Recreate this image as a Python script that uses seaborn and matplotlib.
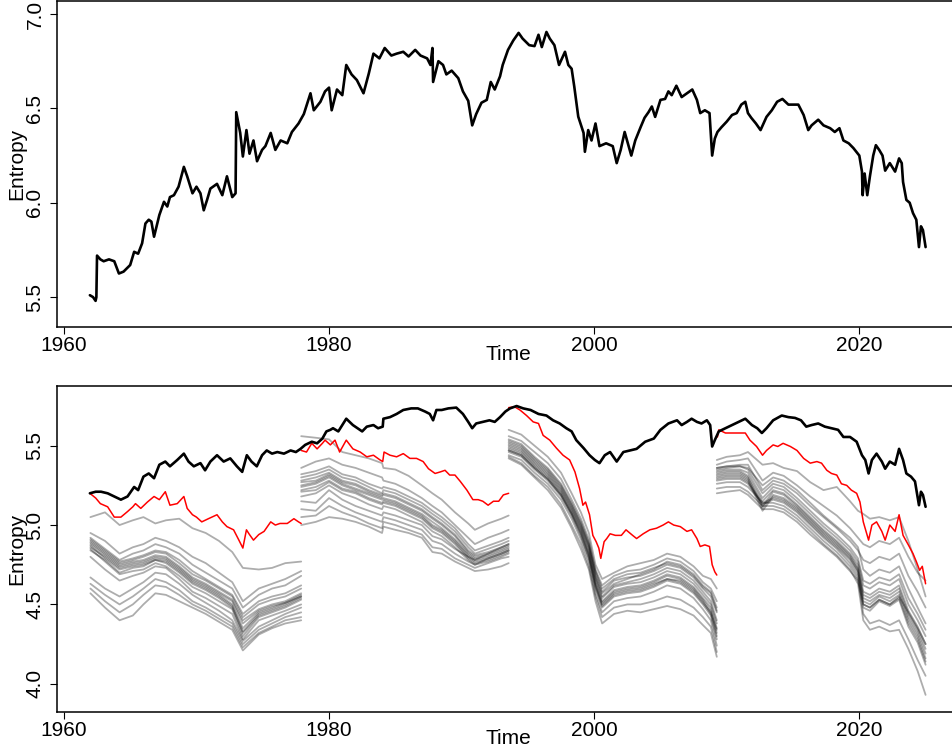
import numpy as np
import pandas as pd
import seaborn as sns
import matplotlib.pyplot as plt

# --- Top panel: entropy of the full sample ---
top_year = [1961.96, 1962.2, 1962.39, 1962.45, 1962.5, 1962.75, 1963.0, 1963.4, 1963.8, 1964.15,
            1964.5, 1965.0, 1965.3, 1965.6, 1965.9, 1966.15, 1966.4, 1966.6, 1966.8, 1967.2,
            1967.55, 1967.8, 1968.0, 1968.3, 1968.65, 1969.05, 1969.3, 1969.7, 1970.0, 1970.3,
            1970.55, 1970.8, 1971.05, 1971.55, 1971.95, 1972.3, 1972.7, 1972.95, 1973.0, 1973.3,
            1973.5, 1973.77, 1974.0, 1974.3, 1974.57, 1974.95, 1975.2, 1975.6, 1975.95, 1976.35,
            1976.85, 1977.2, 1977.7, 1978.1, 1978.6, 1978.85, 1979.35, 1979.7, 1980.0, 1980.2,
            1980.6, 1981.0, 1981.3, 1981.7, 1982.1, 1982.6, 1983.0, 1983.35, 1983.8, 1984.2,
            1984.7, 1985.1, 1985.6, 1986.0, 1986.5, 1986.9, 1987.4, 1987.65, 1987.8, 1987.85,
            1988.25, 1988.6, 1988.85, 1989.25, 1989.75, 1990.1, 1990.5, 1990.8, 1991.1, 1991.5,
            1991.9, 1992.2, 1992.5, 1992.9, 1993.1, 1993.5, 1993.9, 1994.3, 1994.6, 1995.1,
            1995.5, 1995.8, 1996.05, 1996.4, 1996.65, 1997.0, 1997.35, 1997.8, 1998.05, 1998.3,
            1998.5, 1998.8, 1999.2, 1999.3, 1999.55, 1999.8, 2000.1, 2000.4, 2000.9, 2001.4,
            2001.7, 2002.0, 2002.3, 2002.8, 2003.1, 2003.5, 2003.8, 2004.1, 2004.35, 2004.6,
            2005.0, 2005.35, 2005.6, 2005.85, 2006.2, 2006.6, 2007.0, 2007.4, 2007.75, 2008.0,
            2008.35, 2008.7, 2008.9, 2009.1, 2009.3, 2009.6, 2010.0, 2010.4, 2010.75, 2011.1,
            2011.4, 2011.6, 2011.85, 2012.2, 2012.55, 2013.0, 2013.4, 2013.8, 2014.2, 2014.65,
            2015.0, 2015.4, 2015.8, 2016.15, 2016.4, 2016.9, 2017.3, 2017.8, 2018.15, 2018.5,
            2018.8, 2019.2, 2019.55, 2020.0, 2020.2, 2020.25, 2020.4, 2020.6, 2020.8, 2021.05,
            2021.25, 2021.5, 2021.75, 2021.95, 2022.3, 2022.7, 2023.0, 2023.2, 2023.3, 2023.55,
            2023.8, 2024.05, 2024.3, 2024.5, 2024.65, 2024.8, 2025.0]
top_val = [5.51, 5.50, 5.48, 5.50, 5.72, 5.70, 5.69, 5.70, 5.69, 5.625,
           5.635, 5.67, 5.74, 5.73, 5.785, 5.89, 5.91, 5.90, 5.82, 5.935,
           6.005, 5.98, 6.03, 6.04, 6.085, 6.19, 6.14, 6.05, 6.085, 6.05,
           5.96, 6.015, 6.075, 6.10, 6.04, 6.14, 6.03, 6.05, 6.48, 6.37,
           6.245, 6.385, 6.26, 6.33, 6.22, 6.28, 6.30, 6.37, 6.28, 6.33,
           6.315, 6.375, 6.42, 6.47, 6.58, 6.49, 6.535, 6.59, 6.61, 6.49,
           6.60, 6.57, 6.73, 6.68, 6.65, 6.58, 6.685, 6.79, 6.765, 6.82,
           6.78, 6.79, 6.80, 6.775, 6.81, 6.78, 6.765, 6.73, 6.82, 6.64,
           6.75, 6.73, 6.68, 6.70, 6.66, 6.59, 6.54, 6.41, 6.47, 6.53,
           6.545, 6.64, 6.60, 6.67, 6.73, 6.81, 6.86, 6.90, 6.87, 6.835,
           6.83, 6.89, 6.825, 6.905, 6.87, 6.835, 6.73, 6.80, 6.73, 6.71,
           6.615, 6.456, 6.37, 6.27, 6.385, 6.33, 6.42, 6.30, 6.315, 6.30,
           6.21, 6.28, 6.375, 6.25, 6.33, 6.40, 6.45, 6.48, 6.51, 6.455,
           6.545, 6.55, 6.59, 6.57, 6.62, 6.56, 6.58, 6.60, 6.545, 6.475,
           6.49, 6.475, 6.25, 6.34, 6.375, 6.40, 6.43, 6.465, 6.475, 6.52,
           6.535, 6.475, 6.45, 6.42, 6.385, 6.455, 6.49, 6.535, 6.55, 6.52,
           6.52, 6.52, 6.465, 6.385, 6.41, 6.44, 6.41, 6.395, 6.375, 6.395,
           6.33, 6.315, 6.29, 6.25, 6.165, 6.04, 6.155, 6.04, 6.14, 6.25,
           6.305, 6.28, 6.25, 6.17, 6.21, 6.165, 6.235, 6.21, 6.11, 6.015,
           6.0, 5.945, 5.91, 5.765, 5.875, 5.855, 5.765]

# --- Bottom panel: black line (full sample) ---
bot_year = [1961.96, 1962.4, 1962.8, 1963.3, 1963.8, 1964.3, 1964.8, 1965.3, 1965.6, 1966.0,
            1966.4, 1966.8, 1967.2, 1967.65, 1968.0, 1968.55, 1969.05, 1969.4, 1969.8, 1970.3,
            1970.65, 1971.05, 1971.55, 1972.05, 1972.55, 1973.05, 1973.45, 1973.8, 1974.15, 1974.55,
            1974.95, 1975.3, 1975.7, 1976.1, 1976.6, 1977.1, 1977.5, 1977.85, 1978.2, 1978.7,
            1979.1, 1979.5, 1979.8, 1980.1, 1980.3, 1980.7, 1981.3, 1981.8, 1982.5, 1982.85,
            1983.35, 1983.7, 1984.05, 1984.1, 1984.6, 1985.1, 1985.6, 1986.2, 1986.7, 1987.25,
            1987.6, 1987.85, 1988.1, 1988.5, 1989.0, 1989.6, 1990.1, 1990.5, 1990.8, 1991.1,
            1991.6, 1992.1, 1992.5, 1992.9, 1993.3, 1993.65, 1994.15, 1994.65, 1995.2, 1995.8,
            1996.4, 1996.9, 1997.4, 1997.9, 1998.3, 1998.65, 1999.2, 1999.65, 2000.05, 2000.4,
            2000.8, 2001.2, 2001.7, 2002.2, 2002.7, 2003.2, 2003.85, 2004.5, 2005.0, 2005.6,
            2006.25, 2006.6, 2007.0, 2007.35, 2007.75, 2008.1, 2008.5, 2008.75, 2008.9, 2009.1,
            2009.4, 2009.9, 2010.4, 2010.9, 2011.4, 2011.9, 2012.3, 2012.65, 2013.0, 2013.5,
            2014.15, 2014.65, 2015.15, 2015.6, 2016.0, 2016.4, 2016.9, 2017.4, 2017.9, 2018.4,
            2018.8, 2019.3, 2019.8, 2020.2, 2020.45, 2020.7, 2020.95, 2021.3, 2021.7, 2021.95,
            2022.3, 2022.7, 2023.0, 2023.3, 2023.55, 2023.9, 2024.2, 2024.5, 2024.65, 2024.8,
            2025.0]
bot_val = [5.20, 5.21, 5.21, 5.20, 5.18, 5.16, 5.18, 5.24, 5.22, 5.305,
           5.325, 5.295, 5.38, 5.40, 5.37, 5.41, 5.45, 5.40, 5.37, 5.39,
           5.345, 5.40, 5.44, 5.40, 5.42, 5.37, 5.335, 5.44, 5.40, 5.37,
           5.44, 5.47, 5.45, 5.46, 5.45, 5.47, 5.46, 5.48, 5.505, 5.525,
           5.515, 5.545, 5.59, 5.60, 5.61, 5.59, 5.67, 5.63, 5.59, 5.62,
           5.63, 5.61, 5.62, 5.67, 5.68, 5.70, 5.725, 5.735, 5.735, 5.715,
           5.70, 5.66, 5.725, 5.725, 5.735, 5.74, 5.70, 5.65, 5.61, 5.64,
           5.65, 5.66, 5.65, 5.68, 5.715, 5.735, 5.75, 5.735, 5.725, 5.70,
           5.69, 5.66, 5.64, 5.61, 5.59, 5.535, 5.485, 5.44, 5.41, 5.39,
           5.44, 5.46, 5.40, 5.46, 5.47, 5.48, 5.525, 5.545, 5.60, 5.64,
           5.66, 5.63, 5.65, 5.67, 5.65, 5.64, 5.66, 5.63, 5.495, 5.535,
           5.59, 5.61, 5.63, 5.65, 5.67, 5.63, 5.61, 5.58, 5.61, 5.66,
           5.69, 5.68, 5.675, 5.66, 5.62, 5.63, 5.64, 5.62, 5.61, 5.60,
           5.555, 5.555, 5.525, 5.44, 5.41, 5.325, 5.41, 5.45, 5.40, 5.355,
           5.40, 5.38, 5.48, 5.41, 5.325, 5.305, 5.275, 5.125, 5.21, 5.19,
           5.115]

# --- Bottom panel: red line, one piece per sub-period ---
red_year_1 = [1961.96, 1962.4, 1962.75, 1963.3, 1963.8, 1964.3, 1964.8, 1965.2, 1965.4, 1965.8,
              1966.3, 1966.8, 1967.2, 1967.65, 1968.0, 1968.55, 1969.05, 1969.3, 1969.7, 1970.0,
              1970.4, 1970.9, 1971.55, 1971.95, 1972.3, 1972.8, 1973.2, 1973.5, 1973.77, 1974.0,
              1974.3, 1974.7, 1975.1, 1975.6, 1975.95, 1976.3, 1976.85, 1977.35, 1977.7, 1977.9]
red_val_1 = [5.20, 5.17, 5.135, 5.115, 5.05, 5.05, 5.085, 5.115, 5.135, 5.105,
             5.145, 5.18, 5.16, 5.21, 5.125, 5.135, 5.18, 5.105, 5.065, 5.05,
             5.02, 5.04, 5.065, 5.02, 4.99, 4.97, 4.905, 4.855, 4.97, 4.94,
             4.905, 4.94, 4.96, 5.02, 5.00, 5.01, 5.01, 5.04, 5.02, 5.01]
red_year_2 = [1977.9, 1978.3, 1978.7, 1979.1, 1979.5, 1979.7, 1980.1, 1980.45, 1980.8, 1981.3,
              1981.8, 1982.35, 1982.85, 1983.35, 1983.85, 1984.05, 1984.15, 1984.6, 1985.1, 1985.6,
              1986.1, 1986.6, 1987.1, 1987.5, 1988.0, 1988.4, 1988.75, 1989.1, 1989.5, 1989.9,
              1990.4, 1990.85, 1991.25, 1991.6, 1992.0, 1992.4, 1992.8, 1993.15, 1993.55]
red_val_2 = [5.47, 5.46, 5.515, 5.48, 5.515, 5.535, 5.505, 5.535, 5.46, 5.535,
             5.48, 5.46, 5.43, 5.44, 5.41, 5.40, 5.46, 5.44, 5.43, 5.45,
             5.42, 5.42, 5.40, 5.355, 5.325, 5.335, 5.345, 5.315, 5.315, 5.275,
             5.22, 5.16, 5.16, 5.15, 5.125, 5.15, 5.15, 5.19, 5.20]
red_year_3 = [1993.55, 1994.0, 1994.4, 1994.9, 1995.4, 1995.8, 1996.15, 1996.65, 1997.15, 1997.65,
              1998.15, 1998.55, 1998.9, 1999.15, 1999.35, 1999.65, 1999.9, 2000.15, 2000.35, 2000.5,
              2000.75, 2000.95, 2001.2, 2001.6, 2002.05, 2002.4, 2002.9, 2003.2, 2003.7, 2004.2,
              2004.7, 2005.2, 2005.6, 2006.0, 2006.5, 2007.0, 2007.35, 2007.75, 2008.0, 2008.35,
              2008.7, 2008.9, 2009.1, 2009.25]
red_val_3 = [5.74, 5.745, 5.725, 5.69, 5.65, 5.64, 5.565, 5.535, 5.485, 5.44,
             5.41, 5.335, 5.23, 5.125, 5.145, 5.065, 4.935, 4.895, 4.855, 4.79,
             4.895, 4.915, 4.945, 4.935, 4.935, 4.97, 4.935, 4.915, 4.945, 4.97,
             4.98, 5.00, 5.02, 5.00, 4.99, 4.96, 4.97, 4.915, 4.865, 4.875,
             4.865, 4.75, 4.705, 4.685]
red_year_4 = [2009.3, 2009.4, 2009.9, 2010.4, 2011.0, 2011.4, 2011.75, 2012.25, 2012.7, 2013.0,
              2013.5, 2013.85, 2014.25, 2014.8, 2015.3, 2015.8, 2016.3, 2016.8, 2017.15, 2017.55,
              2017.9, 2018.3, 2018.65, 2019.05, 2019.4, 2019.8, 2020.05, 2020.3, 2020.7, 2020.95,
              2021.3, 2021.7, 2021.95, 2022.3, 2022.7, 2023.0, 2023.3, 2023.7, 2024.05, 2024.3,
              2024.55, 2024.75, 2025.0]
red_val_4 = [5.555, 5.60, 5.58, 5.58, 5.58, 5.58, 5.535, 5.495, 5.44, 5.47,
             5.505, 5.495, 5.515, 5.495, 5.47, 5.42, 5.39, 5.40, 5.39, 5.345,
             5.325, 5.315, 5.26, 5.25, 5.22, 5.20, 5.145, 5.02, 4.905, 5.00,
             5.02, 4.96, 4.905, 5.00, 4.96, 5.065, 4.935, 4.875, 4.82, 4.77,
             4.715, 4.74, 4.63]

# --- Bottom panel: grey lines (sub-samples), one grid of years per sub-period ---
gray_year_1 = [1962.0, 1963.1, 1964.2, 1965.2, 1966.0, 1966.9, 1967.7, 1968.7, 1969.7,
               1970.7, 1971.7, 1972.7, 1973.5, 1974.7, 1975.7, 1976.7, 1977.9]
gray_val_1 = [
    [5.05, 5.08, 5.00, 5.03, 5.05, 5.01, 5.03, 5.04, 4.98, 4.95, 4.90, 4.83, 4.73, 4.72, 4.73, 4.76, 4.77],
    [4.95, 4.90, 4.82, 4.86, 4.88, 4.92, 4.90, 4.86, 4.80, 4.76, 4.70, 4.64, 4.52, 4.60, 4.63, 4.66, 4.71],
    [4.92, 4.85, 4.78, 4.82, 4.84, 4.88, 4.86, 4.82, 4.75, 4.70, 4.65, 4.60, 4.48, 4.56, 4.60, 4.62, 4.68],
    [4.91, 4.84, 4.77, 4.79, 4.81, 4.84, 4.83, 4.78, 4.71, 4.66, 4.61, 4.56, 4.44, 4.52, 4.55, 4.57, 4.62],
    [4.90, 4.83, 4.76, 4.78, 4.80, 4.83, 4.82, 4.76, 4.69, 4.65, 4.60, 4.55, 4.42, 4.50, 4.53, 4.55, 4.60],
    [4.89, 4.82, 4.75, 4.77, 4.78, 4.81, 4.80, 4.74, 4.67, 4.63, 4.58, 4.53, 4.40, 4.47, 4.50, 4.52, 4.57],
    [4.88, 4.81, 4.74, 4.76, 4.77, 4.80, 4.79, 4.73, 4.66, 4.62, 4.57, 4.52, 4.38, 4.46, 4.49, 4.51, 4.56],
    [4.87, 4.79, 4.72, 4.74, 4.75, 4.78, 4.77, 4.71, 4.64, 4.60, 4.55, 4.49, 4.33, 4.44, 4.47, 4.50, 4.55],
    [4.86, 4.80, 4.73, 4.75, 4.76, 4.79, 4.78, 4.72, 4.65, 4.61, 4.56, 4.50, 4.35, 4.45, 4.48, 4.51, 4.55],
    [4.85, 4.77, 4.69, 4.71, 4.72, 4.76, 4.74, 4.68, 4.61, 4.57, 4.52, 4.47, 4.30, 4.42, 4.45, 4.48, 4.53],
    [4.84, 4.78, 4.70, 4.73, 4.74, 4.78, 4.76, 4.70, 4.63, 4.59, 4.54, 4.48, 4.32, 4.43, 4.46, 4.49, 4.54],
    [4.80, 4.72, 4.65, 4.68, 4.70, 4.74, 4.73, 4.66, 4.58, 4.54, 4.49, 4.44, 4.28, 4.40, 4.43, 4.46, 4.50],
    [4.67, 4.60, 4.55, 4.60, 4.64, 4.70, 4.69, 4.63, 4.56, 4.51, 4.46, 4.40, 4.27, 4.36, 4.40, 4.44, 4.48],
    [4.63, 4.56, 4.50, 4.55, 4.60, 4.66, 4.64, 4.59, 4.52, 4.48, 4.43, 4.38, 4.25, 4.34, 4.38, 4.42, 4.45],
    [4.60, 4.52, 4.45, 4.50, 4.56, 4.62, 4.61, 4.56, 4.50, 4.46, 4.41, 4.36, 4.23, 4.32, 4.36, 4.40, 4.42],
    [4.57, 4.48, 4.40, 4.43, 4.50, 4.57, 4.56, 4.52, 4.48, 4.44, 4.39, 4.34, 4.21, 4.31, 4.35, 4.38, 4.40],
]
gray_year_2 = [1977.9, 1979.0, 1980.0, 1981.0, 1982.0, 1983.0, 1984.0, 1984.1, 1985.0, 1986.0,
               1987.0, 1987.8, 1988.5, 1989.5, 1990.5, 1991.0, 1992.0, 1993.0, 1993.55]
gray_val_2 = [
    [5.56, 5.55, 5.54, 5.46, 5.44, 5.42, 5.39, 5.36, 5.35, 5.31, 5.25, 5.20, 5.16, 5.08, 5.01, 4.97, 5.01, 5.04, 5.06],
    [5.36, 5.40, 5.42, 5.38, 5.36, 5.33, 5.30, 5.28, 5.26, 5.22, 5.17, 5.12, 5.08, 5.00, 4.92, 4.88, 4.92, 4.95, 4.97],
    [5.32, 5.34, 5.37, 5.32, 5.30, 5.26, 5.23, 5.24, 5.22, 5.18, 5.14, 5.09, 5.05, 4.98, 4.88, 4.84, 4.87, 4.90, 4.92],
    [5.30, 5.32, 5.35, 5.30, 5.28, 5.24, 5.20, 5.22, 5.20, 5.16, 5.12, 5.07, 5.03, 4.96, 4.86, 4.82, 4.85, 4.88, 4.90],
    [5.28, 5.30, 5.33, 5.28, 5.26, 5.22, 5.19, 5.20, 5.18, 5.14, 5.10, 5.05, 5.01, 4.94, 4.84, 4.81, 4.83, 4.86, 4.88],
    [5.27, 5.28, 5.32, 5.27, 5.25, 5.21, 5.18, 5.19, 5.17, 5.13, 5.09, 5.04, 5.00, 4.93, 4.83, 4.80, 4.82, 4.85, 4.87],
    [5.25, 5.27, 5.31, 5.26, 5.23, 5.20, 5.17, 5.17, 5.15, 5.11, 5.07, 5.02, 4.98, 4.91, 4.82, 4.79, 4.81, 4.84, 4.86],
    [5.24, 5.26, 5.30, 5.25, 5.22, 5.19, 5.16, 5.16, 5.14, 5.10, 5.06, 5.00, 4.97, 4.90, 4.81, 4.78, 4.80, 4.83, 4.85],
    [5.22, 5.24, 5.28, 5.23, 5.21, 5.17, 5.14, 5.15, 5.13, 5.09, 5.05, 4.99, 4.96, 4.89, 4.80, 4.77, 4.79, 4.82, 4.84],
    [5.21, 5.22, 5.27, 5.22, 5.20, 5.16, 5.13, 5.14, 5.12, 5.08, 5.04, 4.98, 4.95, 4.88, 4.79, 4.76, 4.78, 4.81, 4.83],
    [5.18, 5.20, 5.25, 5.20, 5.17, 5.13, 5.10, 5.12, 5.10, 5.06, 5.02, 4.96, 4.93, 4.86, 4.78, 4.75, 4.77, 4.80, 4.82],
    [5.15, 5.14, 5.22, 5.16, 5.12, 5.09, 5.06, 5.08, 5.06, 5.03, 5.00, 4.93, 4.91, 4.85, 4.80, 4.78, 4.82, 4.86, 4.88],
    [5.10, 5.09, 5.17, 5.12, 5.08, 5.05, 5.02, 5.05, 5.03, 5.00, 4.97, 4.90, 4.88, 4.82, 4.77, 4.75, 4.79, 4.82, 4.84],
    [5.05, 5.06, 5.12, 5.08, 5.05, 5.01, 4.98, 5.02, 5.00, 4.97, 4.94, 4.86, 4.85, 4.79, 4.75, 4.73, 4.76, 4.79, 4.80],
    [5.00, 5.02, 5.05, 5.04, 5.02, 4.99, 4.95, 4.99, 4.97, 4.95, 4.92, 4.83, 4.82, 4.77, 4.73, 4.71, 4.72, 4.74, 4.76],
]
gray_year_3 = [1993.55, 1994.5, 1995.5, 1996.5, 1997.5, 1998.3, 1999.0, 1999.6, 2000.1, 2000.6,
               2001.5, 2002.5, 2003.5, 2004.5, 2005.5, 2006.5, 2007.5, 2008.2, 2008.8, 2009.25]
gray_val_3 = [
    [5.60, 5.57, 5.50, 5.43, 5.33, 5.20, 5.08, 4.95, 4.75, 4.66, 4.70, 4.74, 4.76, 4.78, 4.82, 4.80, 4.74, 4.68, 4.66, 4.60],
    [5.56, 5.53, 5.46, 5.39, 5.29, 5.16, 5.04, 4.91, 4.72, 4.62, 4.68, 4.71, 4.72, 4.75, 4.79, 4.77, 4.71, 4.64, 4.60, 4.52],
    [5.54, 5.51, 5.43, 5.36, 5.26, 5.14, 5.02, 4.89, 4.71, 4.60, 4.66, 4.69, 4.70, 4.73, 4.76, 4.74, 4.68, 4.61, 4.57, 4.46],
    [5.53, 5.50, 5.42, 5.35, 5.25, 5.13, 5.01, 4.88, 4.70, 4.58, 4.65, 4.67, 4.68, 4.71, 4.75, 4.73, 4.67, 4.60, 4.55, 4.45],
    [5.52, 5.49, 5.41, 5.34, 5.24, 5.12, 5.00, 4.87, 4.68, 4.57, 4.63, 4.66, 4.69, 4.72, 4.77, 4.75, 4.69, 4.62, 4.58, 4.48],
    [5.51, 5.48, 5.40, 5.33, 5.23, 5.11, 4.99, 4.86, 4.67, 4.55, 4.62, 4.64, 4.66, 4.69, 4.73, 4.71, 4.65, 4.58, 4.52, 4.40],
    [5.50, 5.47, 5.39, 5.32, 5.22, 5.10, 4.98, 4.85, 4.66, 4.54, 4.61, 4.63, 4.64, 4.67, 4.71, 4.69, 4.63, 4.56, 4.50, 4.38],
    [5.49, 5.46, 5.38, 5.31, 5.21, 5.09, 4.97, 4.83, 4.64, 4.52, 4.59, 4.61, 4.62, 4.65, 4.69, 4.67, 4.61, 4.54, 4.48, 4.35],
    [5.48, 5.45, 5.37, 5.30, 5.20, 5.08, 4.96, 4.82, 4.63, 4.51, 4.58, 4.60, 4.61, 4.64, 4.68, 4.66, 4.60, 4.53, 4.46, 4.32],
    [5.47, 5.44, 5.36, 5.29, 5.19, 5.07, 4.95, 4.81, 4.61, 4.49, 4.56, 4.58, 4.59, 4.62, 4.66, 4.65, 4.59, 4.52, 4.44, 4.30],
    [5.47, 5.44, 5.36, 5.29, 5.19, 5.07, 4.94, 4.80, 4.62, 4.50, 4.57, 4.59, 4.60, 4.63, 4.66, 4.64, 4.58, 4.51, 4.45, 4.34],
    [5.46, 5.43, 5.35, 5.28, 5.18, 5.06, 4.93, 4.79, 4.60, 4.48, 4.55, 4.57, 4.58, 4.61, 4.65, 4.63, 4.57, 4.50, 4.43, 4.28],
    [5.44, 5.41, 5.33, 5.26, 5.16, 5.04, 4.91, 4.77, 4.57, 4.45, 4.52, 4.54, 4.55, 4.58, 4.62, 4.60, 4.54, 4.47, 4.40, 4.24],
    [5.43, 5.39, 5.31, 5.24, 5.13, 5.00, 4.88, 4.74, 4.55, 4.42, 4.48, 4.50, 4.50, 4.52, 4.55, 4.53, 4.48, 4.42, 4.36, 4.20],
    [5.42, 5.38, 5.30, 5.22, 5.11, 4.98, 4.85, 4.72, 4.52, 4.38, 4.44, 4.46, 4.45, 4.47, 4.49, 4.47, 4.43, 4.37, 4.32, 4.17],
]
gray_year_4 = [2009.25, 2010.0, 2011.0, 2011.6, 2012.7, 2013.5, 2014.3, 2015.3, 2016.3, 2017.3, 2018.3,
               2019.3, 2019.9, 2020.3, 2020.8, 2021.5, 2022.3, 2023.0, 2023.7, 2024.4, 2025.0]
gray_val_4 = [
    [5.41, 5.43, 5.44, 5.46, 5.38, 5.39, 5.36, 5.34, 5.27, 5.22, 5.24, 5.15, 5.09, 5.07, 5.04, 5.05, 5.03, 5.05, 4.90, 4.72, 4.55],
    [5.38, 5.40, 5.41, 5.42, 5.28, 5.33, 5.31, 5.25, 5.18, 5.12, 5.06, 4.98, 4.92, 4.88, 4.86, 4.90, 4.88, 4.92, 4.80, 4.70, 4.65],
    [5.36, 5.37, 5.38, 5.38, 5.22, 5.28, 5.26, 5.20, 5.12, 5.05, 4.98, 4.90, 4.84, 4.78, 4.76, 4.80, 4.78, 4.82, 4.68, 4.58, 4.48],
    [5.36, 5.37, 5.37, 5.35, 5.20, 5.26, 5.24, 5.17, 5.09, 5.01, 4.94, 4.86, 4.79, 4.65, 4.63, 4.67, 4.65, 4.69, 4.54, 4.44, 4.34],
    [5.35, 5.36, 5.37, 5.36, 5.25, 5.30, 5.28, 5.22, 5.14, 5.06, 4.99, 4.92, 4.86, 4.72, 4.68, 4.72, 4.70, 4.74, 4.60, 4.48, 4.38],
    [5.34, 5.35, 5.35, 5.33, 5.17, 5.24, 5.22, 5.15, 5.07, 4.99, 4.92, 4.84, 4.77, 4.62, 4.60, 4.64, 4.62, 4.66, 4.50, 4.40, 4.30],
    [5.33, 5.34, 5.34, 5.31, 5.15, 5.22, 5.20, 5.13, 5.05, 4.97, 4.90, 4.82, 4.75, 4.58, 4.56, 4.60, 4.58, 4.62, 4.46, 4.36, 4.25],
    [5.32, 5.33, 5.33, 5.30, 5.12, 5.21, 5.19, 5.12, 5.04, 4.96, 4.89, 4.81, 4.73, 4.56, 4.54, 4.58, 4.56, 4.60, 4.44, 4.34, 4.22],
    [5.31, 5.32, 5.32, 5.29, 5.11, 5.19, 5.17, 5.11, 5.03, 4.95, 4.88, 4.80, 4.72, 4.54, 4.52, 4.56, 4.54, 4.58, 4.42, 4.32, 4.19],
    [5.30, 5.31, 5.31, 5.28, 5.09, 5.18, 5.16, 5.10, 5.02, 4.94, 4.87, 4.79, 4.71, 4.52, 4.50, 4.55, 4.52, 4.56, 4.40, 4.30, 4.16],
    [5.29, 5.30, 5.30, 5.27, 5.14, 5.17, 5.15, 5.09, 5.01, 4.93, 4.86, 4.78, 4.70, 4.50, 4.48, 4.53, 4.50, 4.54, 4.38, 4.28, 4.14],
    [5.28, 5.29, 5.29, 5.26, 5.13, 5.16, 5.14, 5.08, 5.00, 4.92, 4.85, 4.76, 4.68, 4.48, 4.46, 4.52, 4.49, 4.53, 4.36, 4.26, 4.12],
    [5.26, 5.27, 5.27, 5.24, 5.14, 5.14, 5.12, 5.06, 4.98, 4.90, 4.83, 4.74, 4.66, 4.44, 4.38, 4.40, 4.37, 4.40, 4.28, 4.15, 4.05],
    [5.23, 5.24, 5.24, 5.21, 5.12, 5.12, 5.10, 5.04, 4.96, 4.88, 4.81, 4.72, 4.63, 4.40, 4.34, 4.36, 4.33, 4.34, 4.22, 4.08, 3.93],
    [5.20, 5.21, 5.22, 5.19, 5.10, 5.10, 5.08, 5.02, 4.94, 4.87, 4.80, 4.71, 4.65, 4.50, 4.48, 4.53, 4.50, 4.55, 4.45, 4.35, 4.25],
]

# tabelas longas para o seaborn
top_df = pd.DataFrame({'year': top_year, 'entropy': top_val})
bot_df = pd.DataFrame({'year': bot_year, 'entropy': bot_val})

red_parts = [(red_year_1, red_val_1), (red_year_2, red_val_2),
             (red_year_3, red_val_3), (red_year_4, red_val_4)]
red_df = pd.concat([pd.DataFrame({'year': yr, 'entropy': v, 'seg': i})
                    for i, (yr, v) in enumerate(red_parts)], ignore_index=True)

gray_parts = [(gray_year_1, gray_val_1), (gray_year_2, gray_val_2),
              (gray_year_3, gray_val_3), (gray_year_4, gray_val_4)]
rows = []
for s, (yr, lines) in enumerate(gray_parts):
    for k, v in enumerate(lines):
        rows.append(pd.DataFrame({'year': yr, 'entropy': v, 'line': f'{s}_{k}'}))
gray_df = pd.concat(rows, ignore_index=True)

sns.set_style("ticks")
plt.rcParams['font.family'] = ['Liberation Sans', 'DejaVu Sans']
plt.rcParams['text.color'] = 'black'
plt.rcParams['axes.labelcolor'] = 'black'

W, H = 953, 751
fig = plt.figure(figsize=(W / 100, H / 100), dpi=100)
# axes run a little past the right edge, like the cropped original
ax1 = fig.add_axes([57 / W, (H - 327.3) / H, 902 / W, 326.3 / H])
ax2 = fig.add_axes([57 / W, (H - 711.7) / H, 902 / W, 326.0 / H])

sns.lineplot(data=top_df, x='year', y='entropy', color='black', lw=1.9,
             estimator=None, sort=False, ax=ax1)

sns.lineplot(data=gray_df, x='year', y='entropy', units='line', estimator=None,
             color='black', alpha=0.32, lw=1.3, sort=False, legend=False, ax=ax2)
sns.lineplot(data=red_df, x='year', y='entropy', units='seg', estimator=None,
             color='red', lw=1.1, sort=False, legend=False, ax=ax2)
sns.lineplot(data=bot_df, x='year', y='entropy', color='black', lw=1.9,
             estimator=None, sort=False, ax=ax2)

ax1.set_xlim(1959.48, 2027.52)
ax2.set_xlim(1959.48, 2027.52)
ax1.set_ylim(5.340, 7.069)
ax2.set_ylim(3.824, 5.878)
ax1.set_yticks([5.5, 6.0, 6.5, 7.0])
ax2.set_yticks([4.0, 4.5, 5.0, 5.5])

for ax in (ax1, ax2):
    ax.set_xticks([1960, 1980, 2000, 2020])
    ax.set_yticklabels([f'{t:.1f}' for t in ax.get_yticks()])
    ax.tick_params(axis='both', direction='out', length=5, width=0.8,
                   labelsize=15, colors='black')
    ax.tick_params(axis='x', pad=1.5)
    ax.tick_params(axis='y', pad=4)
    plt.setp(ax.get_yticklabels(), rotation=90, va='center')
    for sp in ('left', 'bottom', 'top'):
        ax.spines[sp].set_linewidth(1.1)
        ax.spines[sp].set_color('black')
    ax.spines['right'].set_visible(False)
    ax.set_xlabel('Time', fontsize=15)
    ax.set_ylabel('Entropy', fontsize=15)
    ax.xaxis.set_label_coords(0.5, -0.054)
    ax.yaxis.set_label_coords(-0.034, 0.5)

fig.savefig('out.png', dpi=100)
